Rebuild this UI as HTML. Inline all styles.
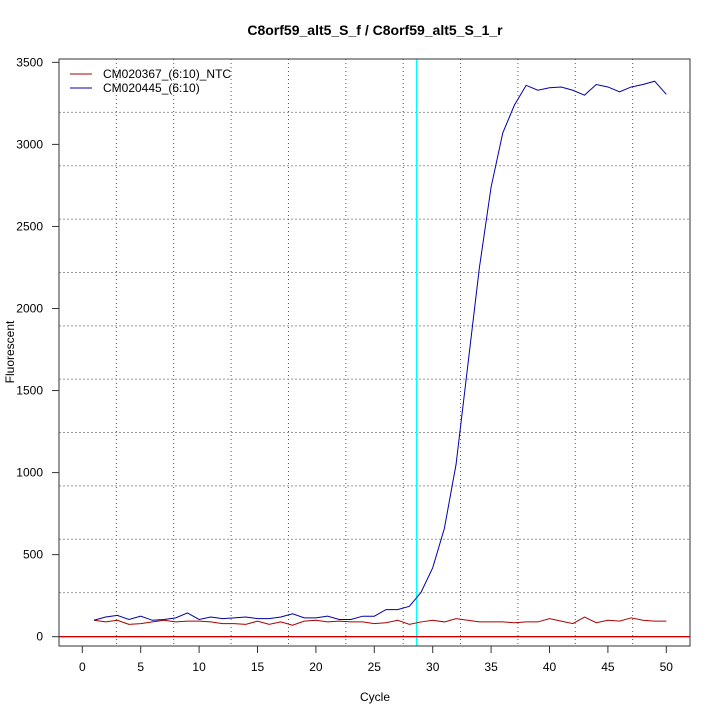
<!DOCTYPE html>
<html><head><meta charset="utf-8"><style>body{margin:0;background:#fff}svg{display:block}text{font-family:"Liberation Sans",sans-serif;font-size:12px}</style></head>
<body>
<svg id="s" width="720" height="720" xmlns="http://www.w3.org/2000/svg">
<rect width="720" height="720" fill="#fff"/>
<g id="grid"></g>
<line x1="416.7" y1="59" x2="416.7" y2="646" stroke="#00ffff" stroke-width="1.5"/>
<line x1="59" y1="636.7" x2="690" y2="636.7" stroke="#cc0000" stroke-width="1.3"/>
<polyline id="red" fill="none" stroke="#aa0000" stroke-width="1"/>
<polyline id="blue" fill="none" stroke="#0000aa" stroke-width="1"/>
<rect x="59" y="59" width="631" height="587" fill="none" stroke="#333" stroke-width="1"/>
<g id="ax"></g>
<line x1="70" y1="74" x2="92" y2="74" stroke="#aa0000"/>
<line x1="70" y1="88" x2="92" y2="88" stroke="#0000aa"/>
<text x="103" y="78">CM020367_(6:10)_NTC</text>
<text x="103" y="92">CM020445_(6:10)</text>
<text x="375" y="35" text-anchor="middle" style="font-weight:bold;font-size:14px">C8orf59_alt5_S_f / C8orf59_alt5_S_1_r</text>
<text x="375" y="701" text-anchor="middle">Cycle</text>
<text transform="translate(14,352) rotate(-90)" text-anchor="middle">Fluorescent</text>
</svg>
<script>
var X=c=>82.3+c*11.68, Y=v=>636.7-v*0.1641;
var b=[100,120,130,105,125,100,105,115,145,105,120,110,115,120,110,110,120,140,115,115,125,105,105,125,125,165,165,185,270,420,660,1050,1650,2250,2740,3070,3240,3360,3330,3345,3350,3330,3300,3365,3350,3320,3350,3365,3385,3305];
var r=[100,90,100,75,80,90,100,90,95,95,90,80,80,75,95,75,90,70,95,100,90,95,90,90,80,85,100,75,90,100,90,110,100,90,90,90,85,90,90,110,95,80,120,85,100,95,115,100,95,95];
document.getElementById('blue').setAttribute('points',b.map((v,i)=>X(i+1)+','+Y(v)).join(' '));
document.getElementById('red').setAttribute('points',r.map((v,i)=>X(i+1)+','+Y(v)).join(' '));
var g='';
for(var k=1;k<11;k++){var x=59+k*631/11,y=59+k*587/11;
g+='<line x1="'+x+'" y1="59" x2="'+x+'" y2="646" stroke="#555" stroke-dasharray="1,3"/>';
g+='<line x1="59" y1="'+y+'" x2="690" y2="'+y+'" stroke="#999" stroke-dasharray="2,2"/>';}
document.getElementById('grid').innerHTML=g;
var a='';
for(var c=0;c<=50;c+=5){var x=X(c);a+='<line x1="'+x+'" y1="646" x2="'+x+'" y2="653" stroke="#333"/><text x="'+x+'" y="671" text-anchor="middle">'+c+'</text>';}
for(var v=0;v<=3500;v+=500){var y=Y(v);a+='<line x1="52" y1="'+y+'" x2="59" y2="'+y+'" stroke="#333"/><text x="43" y="'+(y+4)+'" text-anchor="end">'+v+'</text>';}
document.getElementById('ax').innerHTML=a;
</script>
</body></html>
